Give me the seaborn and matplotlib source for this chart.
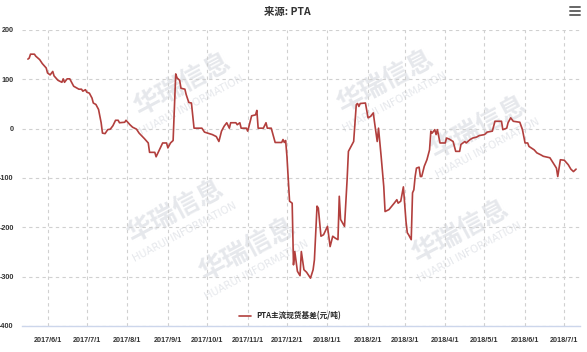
import pandas as pd
import seaborn as sns
import matplotlib.pyplot as plt
from matplotlib import font_manager
from matplotlib.lines import Line2D

# PTA spot basis
dates = [
    "2017-05-17", "2017-05-18", "2017-05-19", "2017-05-22", "2017-05-23", "2017-05-26",
    "2017-05-28", "2017-05-31", "2017-06-01", "2017-06-03", "2017-06-05", "2017-06-06",
    "2017-06-09", "2017-06-12", "2017-06-13", "2017-06-14", "2017-06-16", "2017-06-18",
    "2017-06-21", "2017-06-25", "2017-06-27", "2017-06-28", "2017-06-30", "2017-07-01",
    "2017-07-03", "2017-07-05", "2017-07-06", "2017-07-08", "2017-07-10", "2017-07-12",
    "2017-07-13", "2017-07-15", "2017-07-17", "2017-07-19", "2017-07-21", "2017-07-23",
    "2017-07-25", "2017-07-26", "2017-07-30", "2017-07-31", "2017-08-03", "2017-08-05",
    "2017-08-08", "2017-08-10", "2017-08-14", "2017-08-17", "2017-08-18", "2017-08-22",
    "2017-08-23", "2017-08-25", "2017-08-28", "2017-08-31", "2017-09-01", "2017-09-03",
    "2017-09-05", "2017-09-07", "2017-09-08", "2017-09-10", "2017-09-11", "2017-09-14",
    "2017-09-15", "2017-09-17", "2017-09-19", "2017-09-21", "2017-09-27", "2017-09-29",
    "2017-10-05", "2017-10-08", "2017-10-10", "2017-10-12", "2017-10-14", "2017-10-16",
    "2017-10-18", "2017-10-19", "2017-10-23", "2017-10-24", "2017-10-26", "2017-10-27",
    "2017-10-31", "2017-11-01", "2017-11-02", "2017-11-04", "2017-11-07", "2017-11-08",
    "2017-11-09", "2017-11-13", "2017-11-15", "2017-11-16", "2017-11-19", "2017-11-22",
    "2017-11-27", "2017-11-28", "2017-11-29", "2017-11-30", "2017-12-01", "2017-12-02",
    "2017-12-03", "2017-12-05", "2017-12-06", "2017-12-07", "2017-12-09", "2017-12-11",
    "2017-12-12", "2017-12-14", "2017-12-16", "2017-12-19", "2017-12-21", "2017-12-22",
    "2017-12-24", "2017-12-25", "2017-12-27", "2017-12-29", "2018-01-01", "2018-01-03",
    "2018-01-05", "2018-01-07", "2018-01-09", "2018-01-10", "2018-01-11", "2018-01-14",
    "2018-01-16", "2018-01-17", "2018-01-19", "2018-01-21", "2018-01-23", "2018-01-24",
    "2018-01-25", "2018-01-26", "2018-01-30", "2018-02-01", "2018-02-03", "2018-02-05",
    "2018-02-06", "2018-02-08", "2018-02-09", "2018-02-11", "2018-02-13", "2018-02-14",
    "2018-02-17", "2018-02-21", "2018-02-23", "2018-02-24", "2018-02-26", "2018-02-28",
    "2018-03-02", "2018-03-03", "2018-03-04", "2018-03-06", "2018-03-07", "2018-03-08",
    "2018-03-09", "2018-03-10", "2018-03-12", "2018-03-13", "2018-03-14", "2018-03-16",
    "2018-03-18", "2018-03-20", "2018-03-21", "2018-03-22", "2018-03-24", "2018-03-25",
    "2018-03-26", "2018-03-28", "2018-04-01", "2018-04-02", "2018-04-04", "2018-04-07",
    "2018-04-09", "2018-04-12", "2018-04-13", "2018-04-16", "2018-04-17", "2018-04-20",
    "2018-04-22", "2018-04-25", "2018-04-27", "2018-05-01", "2018-05-03", "2018-05-07",
    "2018-05-09", "2018-05-14", "2018-05-15", "2018-05-18", "2018-05-19", "2018-05-21",
    "2018-05-23", "2018-05-28", "2018-05-30", "2018-06-01", "2018-06-03", "2018-06-04",
    "2018-06-08", "2018-06-10", "2018-06-13", "2018-06-15", "2018-06-20", "2018-06-25",
    "2018-06-26", "2018-06-28", "2018-07-01", "2018-07-04", "2018-07-06", "2018-07-08",
    "2018-07-10",
]
basis = [
    141, 143, 151, 151, 147, 140,
    132, 123, 113, 109, 116, 107,
    98, 94, 101, 94, 101, 101,
    86, 80, 80, 76, 79, 74,
    72, 62, 52, 49, 39, 12,
    -9, -10, -2, -1, 6, 17,
    17, 12, 13, 17, 8, 3,
    -1, -9, -20, -29, -48, -48,
    -57, -46, -29, -29, -39, -29,
    -24, 111, 103, 98, 82, 80,
    69, 53, 52, 1, 1, -7,
    -12, -16, -26, -5, 5, 12,
    1, 12, 12, 8, 12, 1,
    1, -5, 5, 26, 28, 37,
    1, 1, 12, 1, 1, -28,
    -28, -22, -28, -24, -56, -103,
    -147, -151, -276, -249, -289, -298,
    -249, -286, -291, -303, -286, -266,
    -157, -161, -218, -215, -198, -239,
    -218, -222, -225, -137, -184, -198,
    -103, -46, -36, -26, 49, 51,
    45, 51, 52, 22, 25, 32,
    12, -26, 1, -56, -117, -168,
    -164, -151, -144, -151, -147, -118,
    -188, -211, -215, -225, -130, -124,
    -97, -80, -78, -97, -97, -76,
    -63, -43, -5, -9, -2, -12,
    -2, -29, -29, -19, -21, -26,
    -46, -46, -32, -26, -29, -22,
    -19, -17, -14, -12, -7, -5,
    15, 15, -2, 1, 12, 22,
    15, 13, -2, -29, -29, -36,
    -43, -49, -53, -56, -59, -80,
    -97, -63, -64, -73, -82, -87,
    -82,
]
month_ticks = ["2017/6/1", "2017/7/1", "2017/8/1", "2017/9/1", "2017/10/1", "2017/11/1",
               "2017/12/1", "2018/1/1", "2018/2/1", "2018/3/1", "2018/4/1", "2018/5/1",
               "2018/6/1", "2018/7/1"]
y_ticks = [200, 100, 0, -100, -200, -300, -400]
series_name = "PTA主流现货基差(元/吨)"

df = pd.DataFrame({"date": pd.to_datetime(dates), "basis": basis})

sns.set_style("white")
installed = {f.name for f in font_manager.fontManager.ttflist}
tick_font = "Liberation Sans Narrow" if "Liberation Sans Narrow" in installed else "Liberation Sans"
tick_size = 6 if tick_font == "Liberation Sans Narrow" else 5.2
plt.rcParams["font.family"] = [tick_font, "Noto Sans CJK SC", "DejaVu Sans"]

W, H = 587, 352
fig = plt.figure(figsize=(W / 100, H / 100), dpi=100)
ax = fig.add_axes([22 / W, 1 - 326 / H, (580 - 22) / W, (326 - 30) / H])

# faint watermark
for cx, cy in [(182, 85), (385, 82), (478, 128), (175, 212), (247, 250), (460, 232)]:
    ax.text(cx / W, 1 - cy / H, "华瑞信息", transform=fig.transFigure, rotation=28,
            ha="center", va="center", fontsize=19, fontweight="bold",
            color="#e6e8ec", family=["Noto Sans CJK SC"], zorder=0.5, clip_on=False)
    ax.text((cx + 10) / W, 1 - (cy + 20) / H, "HUARUI INFORMATION", transform=fig.transFigure,
            rotation=28, ha="center", va="center", fontsize=7.5,
            color="#e6e8ec", family=["DejaVu Sans"], zorder=0.5, clip_on=False)

sns.lineplot(data=df, x="date", y="basis", ax=ax, color="#b23f3d", linewidth=1.2,
             label=series_name, zorder=3)

tick_dates = pd.to_datetime(month_ticks, format="%Y/%m/%d")
ax.set_xticks(tick_dates)
ax.set_xticklabels(month_ticks, fontsize=tick_size, fontweight="bold", color="#333333")
ax.set_yticks(y_ticks)
ax.set_yticklabels([str(v) for v in y_ticks], fontsize=tick_size, fontweight="bold",
                   color="#333333")
ax.set_ylim(-400, 200)
ax.set_xlim(pd.Timestamp("2017-06-01") - pd.Timedelta(days=19.5),
            pd.Timestamp("2017-06-01") + pd.Timedelta(days=407))
ax.set_xlabel("")
ax.set_ylabel("")

ax.grid(True, color="#d0d0d0", linestyle=(0, (3, 3)), linewidth=0.8)
for s in ["top", "right", "left"]:
    ax.spines[s].set_visible(False)
ax.spines["bottom"].set_color("#ccd6eb")
ax.spines["bottom"].set_linewidth(1)
ax.tick_params(axis="x", length=5, color="#ccd6eb", pad=3)
ax.tick_params(axis="y", length=0, pad=6)

ax.legend(loc="center", bbox_to_anchor=(290 / W, 1 - 316 / H), bbox_transform=fig.transFigure,
          frameon=False, prop={"family": ["Noto Sans CJK SC"], "size": 5.5, "weight": "bold"},
          handlelength=1.6, handletextpad=0.6)

fig.text(0.49, 1 - 12 / H, "来源: PTA", ha="center", va="center", fontsize=7.5,
         fontweight="bold", color="#333333", family=["Noto Sans CJK SC", "DejaVu Sans"])

# menu icon
for yy in [7, 11, 15]:
    fig.add_artist(Line2D([570 / W, 580 / W], [1 - yy / H, 1 - yy / H],
                          color="#666666", linewidth=1.4, transform=fig.transFigure))

fig.savefig("out.png", dpi=100)
